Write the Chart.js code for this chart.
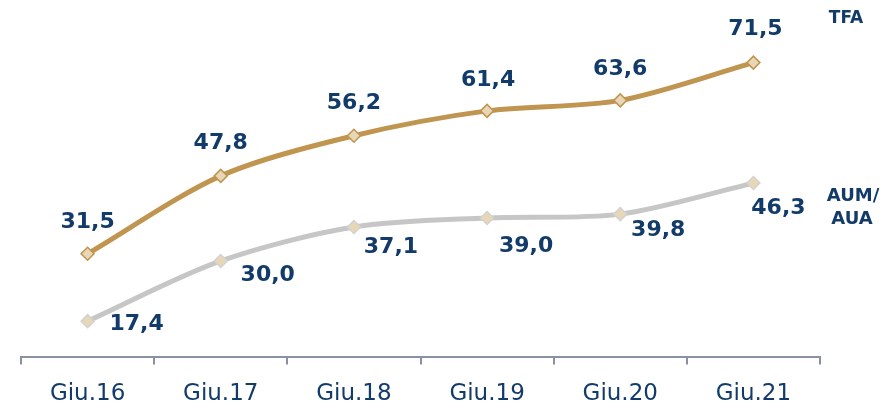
<!DOCTYPE html>
<html>
<head>
<meta charset="utf-8">
<script src="https://cdn.jsdelivr.net/npm/chart.js@4.4.1/dist/chart.umd.min.js"></script>
<style>
  html, body { margin: 0; padding: 0; background: #ffffff; overflow: hidden; }
  #wrap { width: 895px; height: 401px; position: relative; overflow: hidden; }
</style>
</head>
<body>
<div id="wrap"><canvas id="c" width="895" height="423"></canvas></div>
<script>
const categories = ["Giu.16", "Giu.17", "Giu.18", "Giu.19", "Giu.20", "Giu.21"];
const tfaValues = [31.5, 47.8, 56.2, 61.4, 63.6, 71.5];
const aumValues = [17.4, 30.0, 37.1, 39.0, 39.8, 46.3];
const seriesNames = ["TFA", "AUM/AUA"];

const NAVY = "#123B6A";
const fmt = v => v.toFixed(1).replace(".", ",");

// label placement (style only): offsets from each point
const tfaLabelOffsets = [[0,-32],[0,-33],[0,-32],[1,-31],[0,-31],[2,-33]];
const aumLabelOffsets = [[49,3],[47,14],[37,20],[39,28],[38,16],[25,25]];

const labelPlugin = {
  id: "valueLabels",
  afterDatasetsDraw(chart) {
    const ctx = chart.ctx;
    ctx.save();
    ctx.fillStyle = NAVY;
    ctx.textAlign = "center";
    ctx.textBaseline = "middle";
    ctx.font = "bold 22px 'DejaVu Sans'";
    const offs = [tfaLabelOffsets, aumLabelOffsets];
    chart.data.datasets.forEach((ds, di) => {
      const meta = chart.getDatasetMeta(di);
      meta.data.forEach((pt, i) => {
        const o = offs[di][i];
        ctx.fillText(fmt(ds.data[i]), pt.x + o[0], pt.y + o[1]);
      });
    });
    // series names at right
    const m0 = chart.getDatasetMeta(0).data[5];
    const m1 = chart.getDatasetMeta(1).data[5];
    ctx.font = "bold 17px 'DejaVu Sans'";
    ctx.fillText(seriesNames[0], 846, m0.y - 44);
    ctx.font = "bold 18px 'DejaVu Sans'";
    const parts = seriesNames[1].split("/");
    ctx.fillText(parts[0] + "/", 853, m1.y + 13);
    ctx.fillText(parts[1], 852, m1.y + 36);
    ctx.restore();
  }
};

new Chart(document.getElementById("c"), {
  type: "line",
  data: {
    labels: categories,
    datasets: [
      {
        label: seriesNames[0],
        data: tfaValues,
        borderColor: "#C0954F",
        borderWidth: 5,
        tension: 0.3,
        pointStyle: "rectRot",
        pointRadius: 6.5,
        pointBackgroundColor: "#E8D7B6",
        pointBorderColor: "#C0954F",
        pointBorderWidth: 1.5
      },
      {
        label: seriesNames[1],
        data: aumValues,
        borderColor: "#C6C6C6",
        borderWidth: 5,
        tension: 0.3,
        pointStyle: "rectRot",
        pointRadius: 6.5,
        pointBackgroundColor: "#E8D7B6",
        pointBorderColor: "#D2D2D2",
        pointBorderWidth: 1.5
      }
    ]
  },
  options: {
    responsive: false,
    animation: false,
    devicePixelRatio: 1,
    layout: { padding: { left: 21, right: 75, top: 22, bottom: 0 } },
    plugins: { legend: { display: false }, tooltip: { enabled: false } },
    scales: {
      x: {
        offset: true,
        grid: {
          offset: true,
          drawOnChartArea: false,
          drawTicks: true,
          tickLength: 8,
          color: "#8A90A4",
          lineWidth: 2
        },
        border: { display: true, color: "#8A90A4", width: 2 },
        ticks: {
          color: NAVY,
          padding: 16,
          font: { family: "'DejaVu Sans'", size: 23, lineHeight: 1.15 }
        }
      },
      y: {
        display: false,
        min: 10,
        max: 80
      }
    }
  },
  plugins: [labelPlugin]
});
</script>
</body>
</html>
